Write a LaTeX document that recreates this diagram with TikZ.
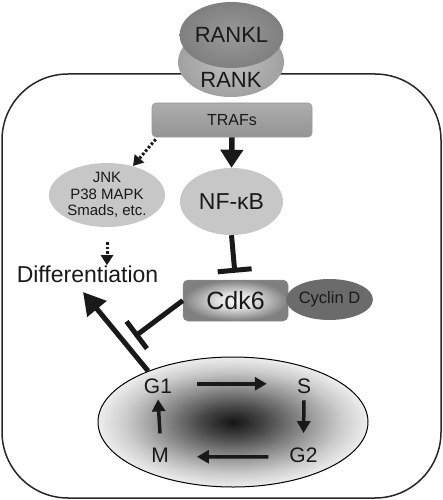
\documentclass[tikz,border=0pt]{standalone}
\usepackage{fontspec}
\setmainfont{Liberation Sans}
\usetikzlibrary{shapes.geometric,arrows.meta,calc}
\pgfdeclareradialshading{ccshade}{\pgfpoint{0bp}{0bp}}{color(0bp)=(black!92); color(6bp)=(black!72); color(13bp)=(black!45); color(20bp)=(black!20); color(25bp)=(black!7); color(50bp)=(black!7)}
\pgfdeclareradialshading{cdkshade}{\pgfpoint{0bp}{0bp}}{color(0bp)=(black!4); color(9bp)=(black!12); color(25bp)=(black!50); color(50bp)=(black!50)}
\begin{document}
\begin{tikzpicture}[x=1pt,y=-1pt,
  fsz/.style={font=\fontsize{#1}{#1}\selectfont},
  thickarrow/.style={line width=5.5pt, black!90, -{Triangle[width=22pt,length=18pt]}},
  bigarrow/.style={line width=5pt, black!90, -{Triangle[width=24pt,length=22pt]}},
  inhibit/.style={line width=5pt, black!90, -{Bar[width=34pt,line width=5pt]}},
  ccarrow/.style={line width=3.5pt, black!90, -{Triangle[width=13pt,length=12pt]}},
  dotarrow/.style={line width=3pt, black!90, dash pattern=on 2.5pt off 2pt, -{Triangle[width=12pt,length=10pt]}},
  cclabel/.style={anchor=base, inner sep=0pt, fsz=21, text=black!90},
  grayell/.style={ellipse, inner sep=0pt, fill=black!22, text=black!90}
]
\useasboundingbox (0,0) rectangle (443,500);
% cell outline
\draw[line width=1.5pt, black!85, rounded corners=66pt] (2,74) rectangle (441,498);
% receptor
\node[ellipse, inner sep=0pt, minimum width=106pt, minimum height=70pt, inner color=black!25, outer color=black!37] (rank) at (231,62) {};
\node[ellipse, inner sep=0pt, minimum width=83pt, minimum height=66pt, inner color=black!40, outer color=black!50, fsz=22, text=black!90] (rankl) at (231.5,35) {RANKL};
\node[fsz=22, text=black!90] (ranktext) at (231,80) {RANK};
% TRAFs
\node[rectangle, rounded corners=4pt, minimum width=160pt, minimum height=34pt, top color=black!32, middle color=black!5, bottom color=black!42, draw=black!40, line width=0.6pt, fsz=16, text=black!90] (trafs) at (232,120) {TRAFs};
% JNK etc
\node[grayell, minimum width=116pt, minimum height=54pt, align=center, font=\fontsize{15}{16.5}\selectfont] (jnk) at (107,195) {JNK\\P38 MAPK\\Smads, etc.};
% NF-kB
\node[grayell, minimum width=103pt, minimum height=67pt, fsz=23] (nfkb) at (231.5,201.5) {NF-κB};
% Differentiation
\node[anchor=base, inner sep=0pt, fsz=23, text=black!90] (diff) at (87.5,282.5) {Differentiation};
% Cdk6 and Cyclin D
\node[rectangle, rounded corners=5pt, minimum width=105pt, minimum height=41pt, shading=cdkshade, draw=black!45, line width=0.5pt, fsz=25, text=black!90] (cdk6) at (235.5,300.5) {Cdk6};
\node[ellipse, inner sep=0pt, fill=black!58, minimum width=83pt, minimum height=41pt, fsz=16.5, text=black!90] (cyclin) at (329.5,299.5) {Cyclin D};
% cell cycle
\node[ellipse, draw=black, line width=1pt, shading=ccshade, minimum width=270pt, minimum height=130pt, inner sep=0pt] (cc) at (233,422) {};
\node[cclabel] (g1) at (158,393) {G1};
\node[cclabel] (s) at (304,393) {S};
\node[cclabel] (g2) at (303.5,462) {G2};
\node[cclabel] (m) at (160,462) {M};
% connectors
\draw[thickarrow] (trafs.south) -- (nfkb.north);
\draw[inhibit, shorten >=7pt] (nfkb.south) -- (cdk6.north);
\draw[dotarrow] ([shift={(4,2)}]trafs.south west) -- ([shift={(26,-29)}]jnk.center);
\draw[dotarrow] ([yshift=-15pt]jnk.south) -- ([yshift=-38pt]jnk.south);
\draw[bigarrow] (cc.149) -- ([shift={(-4.5,9.5)}]diff.base);
\draw[inhibit] (cdk6.west) -- ([shift={(-48,36)}]cdk6.west);
\draw[ccarrow] ([xshift=25pt,yshift=2pt]g1.east) -- ([xshift=-30pt,yshift=2pt]s.west);
\draw[ccarrow] ([yshift=-7pt]s.south) -- ([yshift=14pt]g2.north);
\draw[ccarrow] ([xshift=-21pt,yshift=-2pt]g2.west) -- ([xshift=28pt,yshift=-2pt]m.east);
\draw[ccarrow] ([yshift=14pt]m.north) -- ([yshift=-6pt]g1.south);
\end{tikzpicture}
\end{document}
